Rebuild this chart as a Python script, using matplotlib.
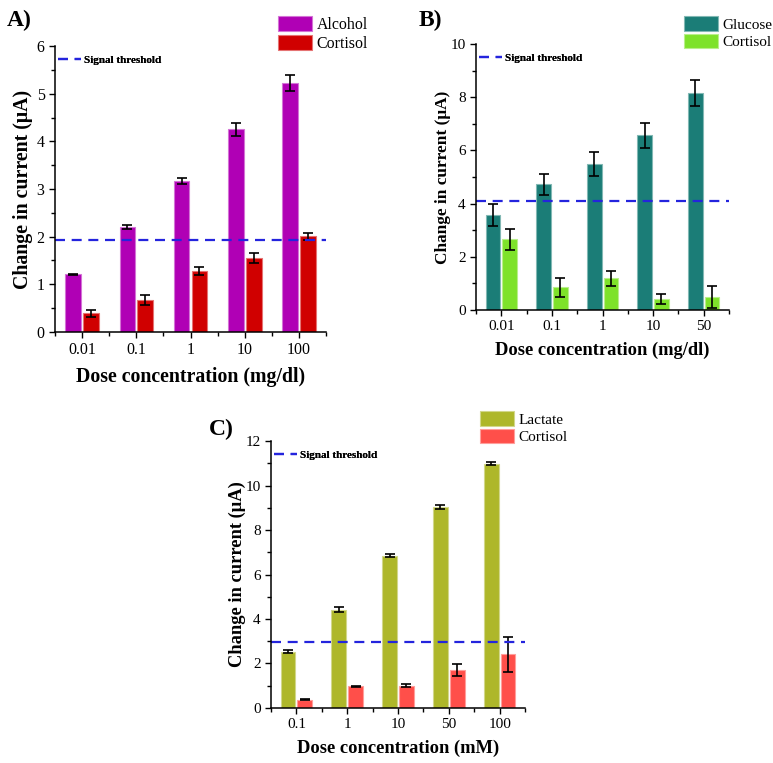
import numpy as np
import matplotlib
matplotlib.use('Agg')
import matplotlib.pyplot as plt

plt.rcParams['font.family'] = ['Liberation Serif', 'DejaVu Serif']

# Panel A - alcohol
a_labels = ['0.01', '0.1', '1', '10', '100']
a_alcohol = [1.21, 2.20, 3.17, 4.25, 5.23]
a_alcohol_err = [0.01, 0.04, 0.07, 0.13, 0.17]
a_cortisol = [0.39, 0.67, 1.28, 1.55, 2.01]
a_cortisol_err = [0.07, 0.10, 0.08, 0.10, 0.07]
a_threshold = 1.92

# Panel B - glucose
b_labels = ['0.01', '0.1', '1', '10', '50']
b_glucose = [3.57, 4.72, 5.48, 6.57, 8.16]
b_glucose_err = [0.40, 0.40, 0.45, 0.47, 0.50]
b_cortisol = [2.66, 0.85, 1.19, 0.41, 0.49]
b_cortisol_err = [0.40, 0.37, 0.29, 0.18, 0.40]
b_threshold = 4.1

# Panel C - lactate
c_labels = ['0.1', '1', '10', '50', '100']
c_lactate = [2.53, 4.42, 6.85, 9.04, 10.98]
c_lactate_err = [0.07, 0.10, 0.07, 0.08, 0.08]
c_cortisol = [0.375, 0.975, 1.0, 1.69, 2.41]
c_cortisol_err = [0.02, 0.02, 0.07, 0.27, 0.80]
c_threshold = 2.97


def lighten(c, f=0.45):
    rgb = np.array(matplotlib.colors.to_rgb(c))
    return tuple(rgb + (1 - rgb) * f)


def panel(ax, labels, v1, e1, v2, e2, thr, names, colors, ymax, ystep, xlabel,
          tick_fs, xlab_fs, ylab_fs, ylab_x):
    x = np.arange(1, len(labels) + 1)
    w = 0.29
    ax.bar(x - 0.165, v1, w, color=colors[0], edgecolor=lighten(colors[0]), lw=0.8, label=names[0])
    ax.bar(x + 0.165, v2, w, color=colors[1], edgecolor=lighten(colors[1]), lw=0.8, label=names[1])
    ax.errorbar(x - 0.165, v1, yerr=e1, fmt='none', ecolor='black', elinewidth=1.2, capsize=3.5, capthick=1.2)
    ax.errorbar(x + 0.165, v2, yerr=e2, fmt='none', ecolor='black', elinewidth=1.2, capsize=3.5, capthick=1.2)
    thr_line = ax.axhline(thr, color='#2424dd', lw=1.6, dashes=(4.5, 3))
    ax.set_xlim(0.5, len(labels) + 0.5)
    ax.set_ylim(0, ymax)
    ax.set_xticks(x)
    ax.set_xticklabels(labels)
    ax.set_xticks(np.arange(0.5, len(labels) + 1, 1), minor=True)
    ax.set_yticks(np.arange(0, ymax + 0.01, ystep))
    ax.set_yticks(np.arange(ystep / 2, ymax, ystep), minor=True)
    ax.tick_params(which='both', direction='out', labelsize=tick_fs, width=1)
    ax.tick_params(which='major', length=4)
    ax.tick_params(which='minor', length=3)
    for s in ['top', 'right']:
        ax.spines[s].set_visible(False)
    for s in ['left', 'bottom']:
        ax.spines[s].set_linewidth(1.1)
    ax.set_xlabel(xlabel, fontsize=xlab_fs, fontweight='bold', labelpad=6)
    ax.set_ylabel('Change in current (μA)', fontsize=ylab_fs, fontweight='bold')
    ax.yaxis.set_label_coords(ylab_x, 0.5)

    h1, l1 = ax.get_legend_handles_labels()
    leg2 = ax.legend([thr_line], ['Signal threshold'], loc='upper left',
                     bbox_to_anchor=(0.01, 0.967), frameon=False, handlelength=2.1,
                     prop={'size': 8, 'weight': 'bold'}, borderpad=0, borderaxespad=0,
                     handletextpad=0.3)
    ax.add_artist(leg2)
    return h1[:2], l1[:2]


fig = plt.figure(figsize=(7.73, 7.63), dpi=100)

axA = fig.add_axes([0.0712, 0.5649, 0.3506, 0.3748])
hA, lA = panel(axA, a_labels, a_alcohol, a_alcohol_err, a_cortisol, a_cortisol_err, a_threshold,
               ['Alcohol', 'Cortisol'], ['#b000b5', '#d00000'], 6, 1, 'Dose concentration (mg/dl)',
               11.5, 14.3, 14.3, -0.08)

axB = fig.add_axes([0.6158, 0.5937, 0.3273, 0.3486])
hB, lB = panel(axB, b_labels, b_glucose, b_glucose_err, b_cortisol, b_cortisol_err, b_threshold,
               ['Glucose', 'Cortisol'], ['#1b7d77', '#7ee22a'], 10, 2, 'Dose concentration (mg/dl)',
               11, 13.3, 12.4, -0.097)

axC = fig.add_axes([0.3506, 0.0721, 0.3286, 0.3499])
hC, lC = panel(axC, c_labels, c_lactate, c_lactate_err, c_cortisol, c_cortisol_err, c_threshold,
               ['Lactate', 'Cortisol'], ['#aeb72a', '#ff4f4a'], 12, 2, 'Dose concentration (mM)',
               11, 13.3, 13.3, -0.097)

# series legends above the right edge of each panel
for h, l, xy, fs in [(hA, lA, (278, 16), 11.4), (hB, lB, (684, 16), 11), (hC, lC, (480, 411), 11)]:
    px = fs * 100 / 72
    fig.legend(h, l, loc='upper left', bbox_to_anchor=(xy[0] / 773, 1 - xy[1] / 763),
               frameon=False, fontsize=fs, handlelength=34 / px, handleheight=17 / px,
               labelspacing=2 / px, handletextpad=0.3, borderpad=0, borderaxespad=0)

fig.text(7 / 773, 1 - 20 / 763, 'A)', fontsize=17, fontweight='bold', va='center', ha='left')
fig.text(419 / 773, 1 - 20 / 763, 'B)', fontsize=17, fontweight='bold', va='center', ha='left')
fig.text(209 / 773, 1 - 429 / 763, 'C)', fontsize=17, fontweight='bold', va='center', ha='left')

fig.savefig('out.png', dpi=100, facecolor='white')
